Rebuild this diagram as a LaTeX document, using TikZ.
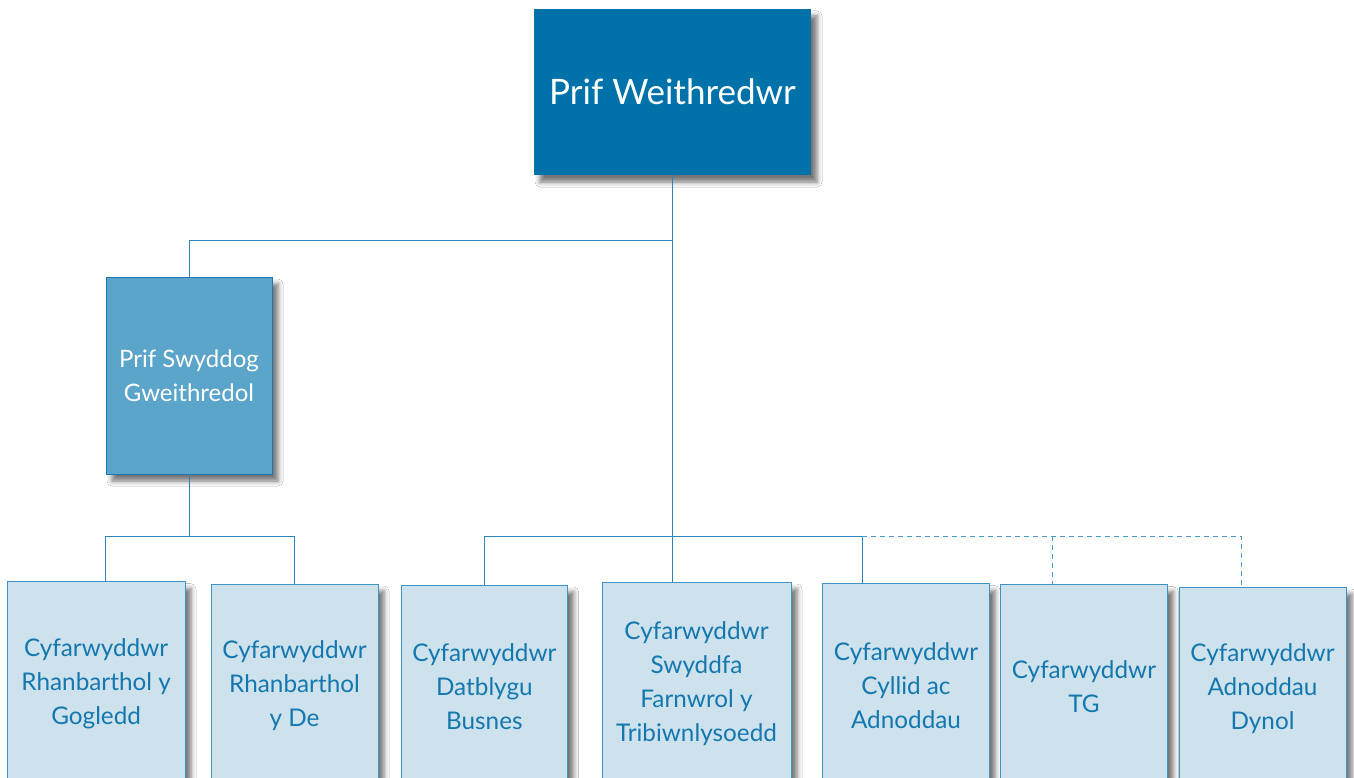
\documentclass[tikz,border=0pt]{standalone}
\usepackage{fontspec}
\setmainfont{Lato}
\usetikzlibrary{shadows.blur}
\definecolor{ceoblue}{HTML}{0072AA}
\definecolor{midblue}{HTML}{5BA4CA}
\definecolor{midborder}{HTML}{1F76AE}
\definecolor{lightfill}{HTML}{CDE2ED}
\definecolor{lightborder}{HTML}{3E93C4}
\definecolor{textblue}{HTML}{1477AE}
\definecolor{lineblue}{HTML}{2A85BB}
\definecolor{dashblue}{HTML}{4A9CC8}
\begin{document}
\begin{tikzpicture}[x=1pt,y=-1pt,
  shad/.style={blur shadow={shadow xshift=6pt, shadow yshift=-7pt, shadow blur radius=5pt, shadow opacity=55}},
  ceobox/.style={shad, fill=ceoblue, draw=none, text=white, inner sep=0pt, outer sep=0pt,
    minimum width=277pt, minimum height=166pt, font=\fontsize{35}{40}\selectfont},
  midbox/.style={shad, fill=midblue, draw=midborder, line width=0.9pt, text=white, inner sep=0pt, outer sep=0pt,
    minimum width=166pt, minimum height=197pt, align=center, font=\fontsize{24}{34}\selectfont},
  lbox/.style={shad, fill=lightfill, draw=lightborder, line width=0.9pt, text=textblue, inner sep=0pt, outer sep=0pt,
    minimum height=204pt, anchor=north west, align=center, font=\fontsize{24.3}{34}\selectfont},
  conn/.style={draw=lineblue, line width=1pt},
  dconn/.style={draw=dashblue, line width=1pt, dash pattern=on 5pt off 4pt}
]
\clip (0,0) rectangle (1354,778);
\fill[white] (0,0) rectangle (1354,778);

\node[ceobox] (ceo) at (672.5,92) {Prif Weithredwr};
\node[midbox] (cso) at (189,375.5) {Prif Swyddog\\Gweithredol};

\node[lbox, minimum width=177.7pt] (b1) at (7.3,581.7) {Cyfarwyddwr\\Rhanbarthol y\\Gogledd};
\node[lbox, minimum width=167pt] (b2) at (211,584) {Cyfarwyddwr\\Rhanbarthol\\y De};
\node[lbox, minimum width=166.7pt] (b3) at (401,585) {Cyfarwyddwr\\Datblygu\\Busnes};
\node[lbox, minimum width=189pt] (b4) at (602,582) {Cyfarwyddwr\\Swyddfa\\Farnwrol y\\Tribiwnlysoedd};
\node[lbox, minimum width=166.6pt] (b5) at (822.7,583.7) {Cyfarwyddwr\\Cyllid ac\\Adnoddau};
\node[lbox, minimum width=166.9pt] (b6) at (1000.5,584.7) {Cyfarwyddwr\\TG};
\node[lbox, minimum width=167pt] (b7) at (1179,587) {Cyfarwyddwr\\Adnoddau\\Dynol};

\coordinate (busA) at (0,240);
\coordinate (busB) at (0,536);
\coordinate (x1) at (105,0);
\coordinate (x5) at (862,0);
\coordinate (x6) at (1052,0);
\coordinate (x7) at (1241,0);

% CEO to CSO
\draw[conn] (ceo.south) -- (ceo.south |- b4.north);
\draw[conn] (ceo.south |- busA) -| (cso.north);
% CSO to regional directors
\draw[conn] (cso.south) -- (cso.south |- busB);
\draw[conn] (x1 |- b1.north) |- (b2.north |- busB) -- (b2.north);
% main bus
\draw[conn] (b3.north) -- (b3.north |- busB) -- (x5 |- busB) -- (x5 |- b5.north);
% dashed
\draw[dconn] (x5 |- busB) -- (x7 |- busB) -- (x7 |- b7.north);
\draw[dconn] (x6 |- busB) -- (x6 |- b6.north);
\end{tikzpicture}
\end{document}
